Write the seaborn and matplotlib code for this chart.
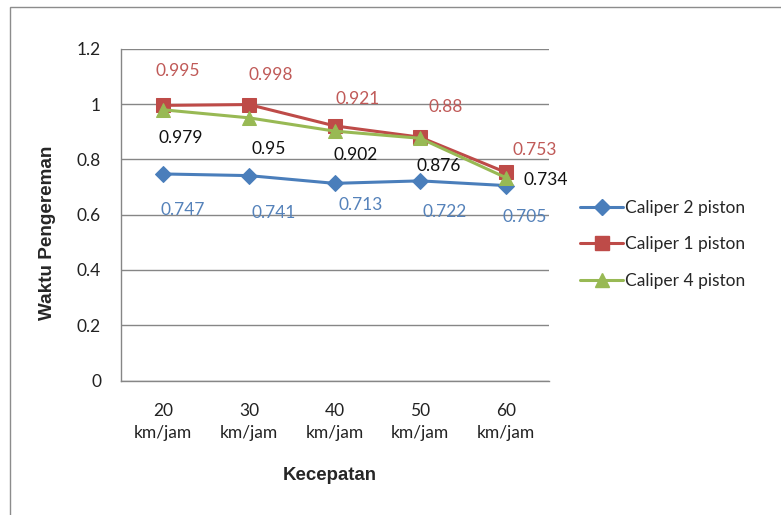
import matplotlib
matplotlib.use("Agg")
import matplotlib.pyplot as plt
from matplotlib.patches import Rectangle
import seaborn as sns
import pandas as pd
import numpy as np

# Braking time per speed for three caliper types
speeds = ["20\nkm/jam", "30\nkm/jam", "40\nkm/jam", "50\nkm/jam", "60\nkm/jam"]
caliper_2 = [0.747, 0.741, 0.713, 0.722, 0.705]
caliper_1 = [0.995, 0.998, 0.921, 0.880, 0.753]
caliper_4 = [0.979, 0.950, 0.902, 0.876, 0.734]
series_names = ["Caliper 2 piston", "Caliper 1 piston", "Caliper 4 piston"]
label_text = {
    "Caliper 2 piston": ["0.747", "0.741", "0.713", "0.722", "0.705"],
    "Caliper 1 piston": ["0.995", "0.998", "0.921", "0.88", "0.753"],
    "Caliper 4 piston": ["0.979", "0.95", "0.902", "0.876", "0.734"],
}

sns.set_style("white")
plt.rcParams["font.family"] = ["Lato", "DejaVu Sans"]

W, H = 781, 515
fig = plt.figure(figsize=(W / 100, H / 100), dpi=100)
fig.patch.set_facecolor("white")

# outer chart frame
fig.patches.append(Rectangle((10 / W, -0.1), 1.2, (H - 7) / H + 0.1,
                             transform=fig.transFigure, fill=False,
                             edgecolor="#8c8c8c", lw=1.0))

ax_l, ax_r, ax_t, ax_b = 120.5, 548.5, 48.7, 380.5
ax = fig.add_axes([ax_l / W, 1 - ax_b / H, (ax_r - ax_l) / W, (ax_b - ax_t) / H])

df = pd.DataFrame({
    "Kecepatan": speeds * 3,
    "Waktu": caliper_2 + caliper_1 + caliper_4,
    "Seri": sum([[n] * len(speeds) for n in series_names], []),
})

colors = {"Caliper 2 piston": "#4A7EBB", "Caliper 1 piston": "#BE4B48",
          "Caliper 4 piston": "#98B954"}
markers = {"Caliper 2 piston": "D", "Caliper 1 piston": "s",
           "Caliper 4 piston": "^"}
msizes = {"Caliper 2 piston": 8, "Caliper 1 piston": 9.5,
          "Caliper 4 piston": 9.5}
line_w = 2.2

xpos = np.arange(len(speeds))
for name in series_names:
    sub = df[df["Seri"] == name].copy()
    sub["pos"] = xpos
    sns.lineplot(data=sub, x="pos", y="Waktu", ax=ax, color=colors[name],
                 lw=line_w, marker=markers[name], markersize=msizes[name],
                 markeredgecolor=colors[name], label=name, zorder=3,
                 legend=False)

# data labels (pixel offsets from each point)
label_colors = {"Caliper 2 piston": "#5582BA", "Caliper 1 piston": "#C05A58",
                "Caliper 4 piston": "#111111"}
label_offsets = {
    "Caliper 2 piston": [(19, -36), (25, -37), (26, -22), (25, -31), (19, -31)],
    "Caliper 1 piston": [(14, 34), (22, 30), (23, 27), (26, 30), (29, 22)],
    "Caliper 4 piston": [(17, -28), (20, -31), (21, -24), (19, -28), (40, -2)],
}
for name in series_names:
    vals = df[df["Seri"] == name]["Waktu"].to_numpy()
    for i, v in enumerate(vals):
        dx, dy = label_offsets[name][i]
        ax.annotate(label_text[name][i], (xpos[i], v), xytext=(dx, dy),
                    textcoords="offset pixels", ha="center", va="center",
                    fontsize=12.5, color=label_colors[name], zorder=4)

ax.set_xlim(-0.5, len(speeds) - 0.5)
ax.set_ylim(0, 1.2)
ax.set_yticks(np.arange(0, 1.21, 0.2))
ax.set_yticklabels(["0", "0.2", "0.4", "0.6", "0.8", "1", "1.2"])
ax.yaxis.grid(True, color="#868686", lw=1.0)
ax.set_axisbelow(True)

# tick marks between categories, labels at category centres
ax.set_xticks(np.arange(-0.5, len(speeds), 1.0))
ax.set_xticklabels([])
ax.set_xticks(xpos, minor=True)
ax.set_xticklabels(speeds, minor=True, fontsize=12.5, linespacing=1.45)
ax.tick_params(axis="x", which="major", direction="out", length=5,
               color="#868686", width=1)
ax.tick_params(axis="x", which="minor", length=0, pad=16, colors="#222222")
ax.tick_params(axis="y", direction="out", length=5, color="#868686",
               width=1, pad=9, labelsize=12.5, labelcolor="#222222")

for s in ["top", "right"]:
    ax.spines[s].set_visible(False)
for s in ["left", "bottom"]:
    ax.spines[s].set_color("#868686")
    ax.spines[s].set_linewidth(1.0)

ax.set_xlabel("")
ax.set_ylabel("")
fig.text(330 / W, 1 - 475 / H, "Kecepatan", ha="center", va="center",
         fontsize=13.4, fontweight="bold", family="Liberation Sans")
fig.text(48 / W, 1 - 233 / H, "Waktu Pengereman", ha="center", va="center",
         rotation=90, fontsize=13.6, fontweight="bold", family="Liberation Sans")

handles = [plt.Line2D([], [], color=colors[n], lw=line_w, marker=markers[n],
                      markersize=msizes[n], markeredgecolor=colors[n])
           for n in series_names]
fig.legend(handles, series_names, loc="upper left",
           bbox_to_anchor=(580 / W, 1 - 200 / H), frameon=False,
           fontsize=12.5, handlelength=2.5, handletextpad=0.12,
           labelspacing=1.18, borderaxespad=0, borderpad=0)

fig.savefig("out.png", dpi=100, facecolor="white")
